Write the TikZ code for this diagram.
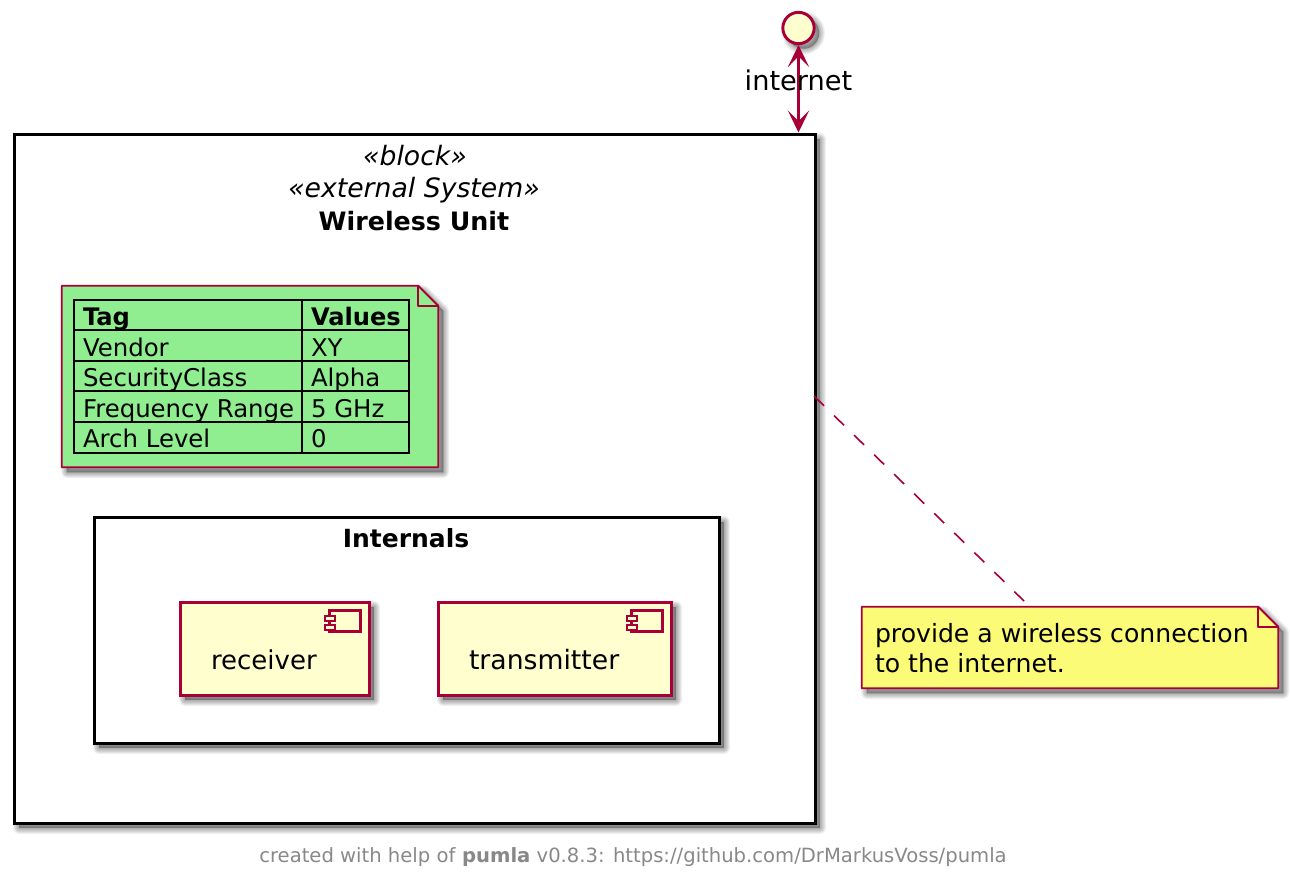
\documentclass[tikz,border=0pt]{standalone}
\usepackage{fontspec}
\setmainfont{DejaVu Sans}
\usetikzlibrary{arrows.meta,calc}
\definecolor{crim}{HTML}{A80036}
\definecolor{cream}{HTML}{FEFECE}
\definecolor{notey}{HTML}{FBFB77}
\definecolor{lgreen}{HTML}{90EE90}
\definecolor{foot}{HTML}{888888}
\newcommand{\fs}[1]{\fontsize{#1pt}{22pt}\selectfont}
\tikzset{
  sh/.style={preaction={draw=black,fill=black,line width=#1,opacity=.06,line join=round,transform canvas={shift={(3.8pt,-3.8pt)}}}},
  softshadow/.style={sh=8.5pt,sh=7pt,sh=5.5pt,sh=4pt,sh=2.5pt,sh=1pt},
  frame/.style={rectangle,draw=black,line width=2.25pt,fill=white,inner sep=0pt,softshadow},
  comp/.style={rectangle,draw=crim,line width=2.25pt,fill=cream,inner sep=0pt,softshadow},
  geom/.style={rectangle,inner sep=0pt},
  notebody/.style={draw=crim,line width=1.4pt,line join=round,softshadow},
  foldline/.style={draw=crim,line width=1.4pt,line join=round},
  grid/.style={draw=black,line width=1.5pt},
  txt/.style={inner sep=0pt,outer sep=0pt,anchor=base,font=\fs{19.5}},
  cell/.style={txt,anchor=base west,font=\fs{18.3}},
  biarrow/.style={draw=crim,line width=1.7pt,{Stealth[length=16.5pt,width=16pt,inset=8pt]}-{Stealth[length=16.5pt,width=16pt,inset=8pt]}},
  dashline/.style={draw=crim,line width=1.2pt,dash pattern=on 10.5pt off 10.5pt},
}
\begin{document}
\begin{tikzpicture}[x=.75pt,y=-.75pt]
\useasboundingbox (0,0) rectangle (1290,878);
% actor
\node[circle,draw=crim,line width=2.2pt,fill=cream,minimum size=23.5pt,inner sep=0pt,softshadow] (ic) at (798.5,28) {};
% wireless unit
\node[frame,minimum width=600.75pt,minimum height=516.75pt] (wu) at (414.5,478.5) {};
\coordinate (dashstart) at (814,396);
\coordinate (dashend) at (1024,601);
\draw[biarrow] (ic.south) -- (wu.north -| ic.south);
\node[txt,font=\fs{20.4}] (lblint) at (798.5,90) {internet};
\node[txt,font=\fs{20}\itshape] (s1) at (415,165) {«block»};
\node[txt,font=\fs{20}\itshape] (s2) at (414,197) {«external System»};
\node[txt,font=\fs{19}\bfseries] (s3) at (414,230) {Wireless Unit};
% green note
\node[geom,minimum width=282pt,minimum height=135.75pt] (gn) at (250,376.5) {};
\path[notebody,fill=lgreen] (gn.north west) -- ($(gn.north east)+(-20,0)$) -- ($(gn.north east)+(0,20)$) -- (gn.south east) -- (gn.south west) -- cycle;
\path[foldline] ($(gn.north east)+(-20,0)$) -- ($(gn.north east)+(-20,20)$) -- ($(gn.north east)+(0,20)$);
\node[geom,minimum width=251.25pt,minimum height=114.75pt] (tb) at (241.5,376.5) {};
\draw[grid] (tb.north west) rectangle (tb.south east);
\coordinate (c1) at (302,0);
\draw[grid] (tb.north -| c1) -- (tb.south -| c1);
\foreach \yy in {330,361,391,422} {\draw[grid] (tb.west |- 0,\yy) -- (tb.east |- 0,\yy);}
\node[cell,font=\fs{18.1}\bfseries] (t11) at (83,325) {Tag};
\node[cell,font=\fs{18.1}\bfseries] (t12) at (311,325) {Values};
\node[cell] (t21) at (83,356) {Vendor};
\node[cell] (t22) at (311,356) {XY};
\node[cell] (t31) at (83,386) {SecurityClass};
\node[cell] (t32) at (311,386) {Alpha};
\node[cell] (t41) at (83,417) {Frequency Range};
\node[cell] (t42) at (311,417) {5 GHz};
\node[cell] (t51) at (83,447) {Arch Level};
\node[cell] (t52) at (311,447) {0};
% internals
\node[frame,minimum width=468.75pt,minimum height=169.5pt] (inl) at (406.5,630) {};
\node[txt,font=\fs{18.75}\bfseries] (inlt) at (406,547) {Internals};
% components
\node[comp,minimum width=141.75pt,minimum height=69.75pt] (rx) at (274.5,648.5) {};
\node[txt,anchor=base west] (rxt) at (211,669) {receiver};
\node[comp,minimum width=174.75pt,minimum height=69.75pt] (tx) at (554.5,648.5) {};
\node[txt,anchor=base west,font=\fs{20}] (txt1) at (469,669) {transmitter};
\foreach \nn in {rx,tx}{
  \draw[crim,line width=1.8pt,fill=cream] ($(\nn.north east)+(-41,10)$) rectangle ($(\nn.north east)+(-10,31)$);
  \draw[crim,line width=1.5pt,fill=cream] ($(\nn.north east)+(-46,15)$) rectangle ($(\nn.north east)+(-36,20)$);
  \draw[crim,line width=1.5pt,fill=cream] ($(\nn.north east)+(-46,24)$) rectangle ($(\nn.north east)+(-36,29)$);
}
% yellow note
\node[geom,minimum width=312pt,minimum height=60.75pt] (yn) at (1070,647.5) {};
\path[notebody,fill=notey] (yn.north west) -- ($(yn.north east)+(-20,0)$) -- ($(yn.north east)+(0,20)$) -- (yn.south east) -- (yn.south west) -- cycle;
\path[foldline] ($(yn.north east)+(-20,0)$) -- ($(yn.north east)+(-20,20)$) -- ($(yn.north east)+(0,20)$);
\node[txt,anchor=base west,font=\fs{18.85}] (yn1) at (875,642) {provide a wireless connection};
\node[txt,anchor=base west,font=\fs{18.85}] (yn2) at (875,672) {to the internet.};
\draw[dashline] (dashstart) -- (dashend);
% footer
\node[txt,text=foot,font=\fs{14.7}] (ft) at (633,862) {created with help of \textbf{pumla} v0.8.3: https://github.com/DrMarkusVoss/pumla};
\end{tikzpicture}
\end{document}
